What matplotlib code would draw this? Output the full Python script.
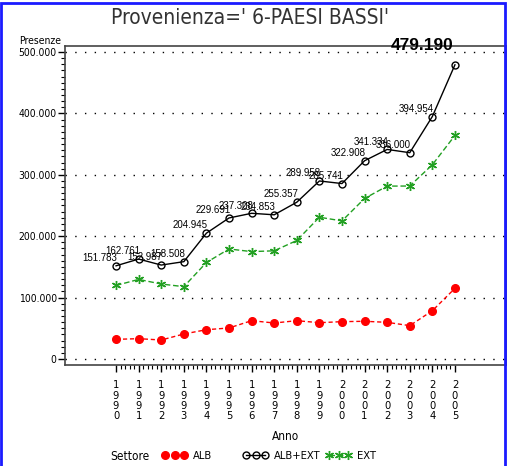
import numpy as np
import matplotlib
matplotlib.use('Agg')
import matplotlib.pyplot as plt
from matplotlib.lines import Line2D
from matplotlib.patches import Rectangle
from matplotlib.ticker import FixedLocator

years = [1990, 1991, 1992, 1993, 1994, 1995, 1996, 1997,
         1998, 1999, 2000, 2001, 2002, 2003, 2004, 2005]
alb = [32000, 33100, 30900, 40700, 47700, 50500, 62400, 58600,
       62400, 59100, 60800, 61400, 59700, 54300, 78600, 115100]
alb_ext = [151783, 162761, 152987, 158508, 204945, 229691, 237308, 234853,
           255357, 289958, 285741, 322908, 341334, 336000, 394954, 479190]
ext = [119800, 129600, 122100, 117800, 157200, 179200, 174900, 176200,
       193000, 230900, 224900, 261500, 281600, 281700, 316400, 364100]
ylab_vals = [0, 100000, 200000, 300000, 400000, 500000]
ylab_txt = ['0', '100.000', '200.000', '300.000', '400.000', '500.000']
settori = ['ALB', 'ALB+EXT', 'EXT']

green = '#22a022'
tfont = dict(family='DejaVu Sans', stretch='condensed')


def fmt(v):
    return '{:,}'.format(v).replace(',', '.')


fig = plt.figure(figsize=(5.07, 4.66), dpi=100)
ax = fig.add_axes([65 / 507, 1 - 365 / 466, 441 / 507, 319 / 466])

styles = [
    dict(color='red', ls=(0, (3, 2)), lw=1, marker='o', ms=5.5,
         mfc='red', mec='red'),
    dict(color='black', lw=1, marker='o', ms=5, mfc='none', mec='black'),
    dict(color=green, ls=(0, (4, 2)), lw=1, marker=(6, 2, 0), ms=6.5,
         mec=green),
]
for serie, st in zip([alb, alb_ext, ext], styles):
    ax.plot(years, serie, zorder=3, **st)

# etichette valori ALB+EXT
for x, v in zip(years[:-1], alb_ext[:-1]):
    ax.annotate(fmt(v), (x, v), xytext=(1, 2), textcoords='offset points',
                ha='right', va='bottom', fontsize=7,
                family='Liberation Sans')
ax.annotate(fmt(alb_ext[-1]), (years[-1], 500000), xytext=(-1, -1),
            textcoords='offset points', ha='right', va='bottom',
            fontsize=12.5, fontweight='bold', family='Liberation Sans',
            annotation_clip=False)

ax.set_xlim(1987.74, 2007.26)
ax.set_ylim(-9800, 509800)
ax.set_yticks(ylab_vals)
ax.set_yticklabels(ylab_txt, fontsize=7.5, **tfont)
ax.yaxis.set_minor_locator(FixedLocator(np.arange(0, 500001, 10000)))
ax.set_xticks(years)
ax.set_xticklabels(['\n'.join(str(y)) for y in years], fontsize=8,
                   linespacing=1.05, **tfont)
ax.xaxis.set_minor_locator(FixedLocator(np.arange(1990, 2005.01, 0.2)))
ax.tick_params(which='major', direction='out', length=5, width=1, pad=6)
ax.tick_params(which='minor', direction='out', length=3, width=0.8)
ax.tick_params(axis='y', which='major', pad=1)

for v in ylab_vals:
    ax.axhline(v, color='black', lw=1, ls=(0, (1, 6)), zorder=1)

for s in ax.spines.values():
    s.set_color('#444444')
    s.set_linewidth(1.2)

ax.set_xlabel('Anno', fontsize=8.5, labelpad=6, **tfont)
fig.text(40 / 507, 1 - 46 / 466, 'Presenze', fontsize=7.5,
         ha='center', va='bottom', **tfont)

fig.text(250 / 507, 1 - 18 / 466, "Provenienza=' 6-PAESI BASSI'",
         fontsize=15, ha='center', va='center', color='#333333', **tfont)

# legenda
ly = 1 - 456 / 466
fig.text(130 / 507, ly, 'Settore', fontsize=8.5, ha='center', va='center',
         **tfont)
for nome, st, xp in zip(settori, styles, [162, 243, 326]):
    fig.legend([Line2D([], [], **st)], [nome], loc='center left',
               bbox_to_anchor=(xp / 507, ly), frameon=False, numpoints=3,
               handlelength=2.3, handletextpad=0.5,
               prop=dict(size=8, **tfont), borderpad=0, borderaxespad=0)

# bordo blu
fig.add_artist(Rectangle((0.001, -0.01), 0.996, 1.004,
                         transform=fig.transFigure, fill=False,
                         edgecolor='#1a1aff', lw=2))

fig.savefig('out.png', dpi=100)
